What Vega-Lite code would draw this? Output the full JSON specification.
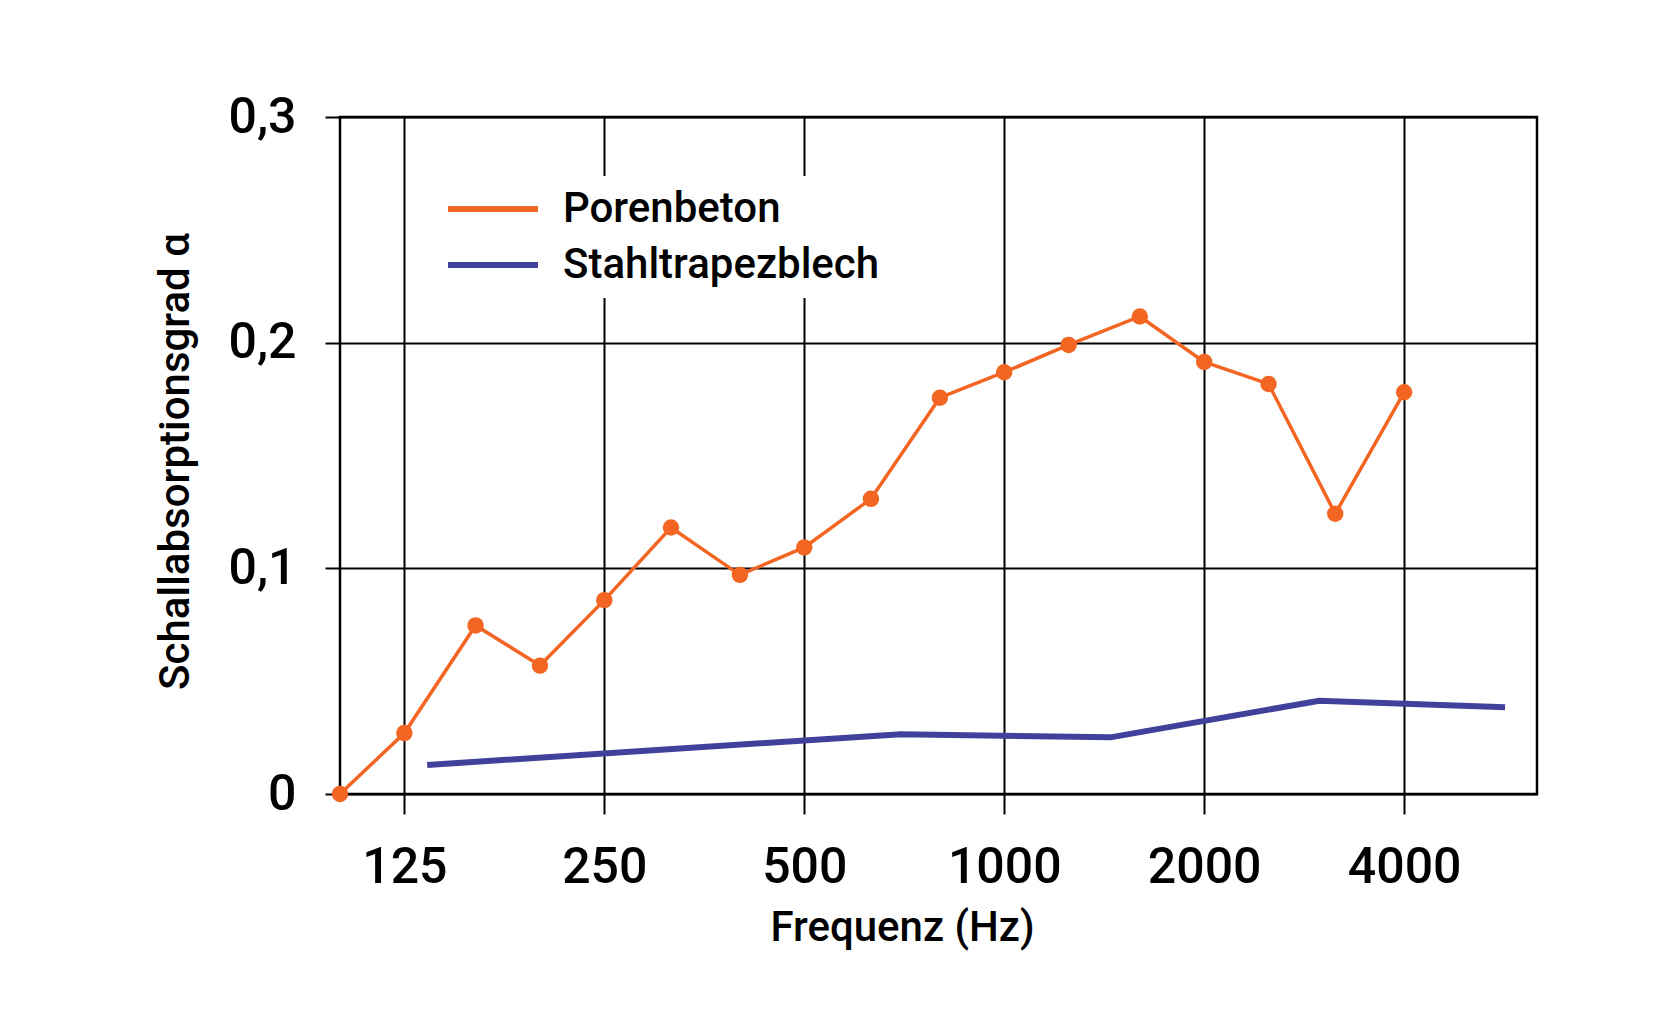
{
  "$schema": "https://vega.github.io/schema/vega-lite/v6.json",
  "autosize": {"type": "none"},
  "width": 1197,
  "height": 677,
  "padding": {"left": 340, "top": 117, "right": 117, "bottom": 225},
  "background": "white",
  "config": {
    "view": {"stroke": "black", "strokeWidth": 2.5},
    "font": "Roboto"
  },
  "data": {
    "values": [
      {"series": "Porenbeton", "f": 100, "a": 0.0},
      {"series": "Porenbeton", "f": 125, "a": 0.027},
      {"series": "Porenbeton", "f": 160, "a": 0.0747},
      {"series": "Porenbeton", "f": 200, "a": 0.0569},
      {"series": "Porenbeton", "f": 250, "a": 0.0859},
      {"series": "Porenbeton", "f": 315, "a": 0.1181},
      {"series": "Porenbeton", "f": 400, "a": 0.0971},
      {"series": "Porenbeton", "f": 500, "a": 0.1093},
      {"series": "Porenbeton", "f": 630, "a": 0.1308},
      {"series": "Porenbeton", "f": 800, "a": 0.1756},
      {"series": "Porenbeton", "f": 1000, "a": 0.1869},
      {"series": "Porenbeton", "f": 1250, "a": 0.199},
      {"series": "Porenbeton", "f": 1600, "a": 0.2116},
      {"series": "Porenbeton", "f": 2000, "a": 0.1915},
      {"series": "Porenbeton", "f": 2500, "a": 0.1817},
      {"series": "Porenbeton", "f": 3150, "a": 0.1242},
      {"series": "Porenbeton", "f": 4000, "a": 0.178},
      {"series": "Stahltrapezblech", "f": 135.3, "a": 0.0129},
      {"series": "Stahltrapezblech", "f": 698.6, "a": 0.0265},
      {"series": "Stahltrapezblech", "f": 1445, "a": 0.0251},
      {"series": "Stahltrapezblech", "f": 2980, "a": 0.0413},
      {"series": "Stahltrapezblech", "f": 5675, "a": 0.0384}
    ]
  },
  "encoding": {
    "x": {
      "field": "f",
      "type": "quantitative",
      "scale": {"type": "log", "domain": [100, 6340], "nice": false},
      "axis": {
        "values": [125, 250, 500, 1000, 2000, 4000],
        "format": "d",
        "grid": true,
        "gridColor": "black",
        "gridWidth": 2,
        "gridOpacity": 1,
        "domain": false,
        "tickColor": "black",
        "tickWidth": 2,
        "tickSize": 20,
        "labelFontSize": 50,
        "labelFontWeight": 500,
        "labelColor": "black",
        "labelBaseline": "alphabetic",
        "labelPadding": 68,
        "labelFlush": false,
        "labelOverlap": false,
        "title": "Frequenz (Hz)",
        "titleFontSize": 42,
        "titleFontWeight": 500,
        "titleColor": "black",
        "titleBaseline": "alphabetic",
        "titleAlign": "center",
        "titleAnchor": "start",
        "titleX": 562,
        "titleY": 146
      }
    },
    "y": {
      "field": "a",
      "type": "quantitative",
      "scale": {"domain": [0, 0.3], "nice": false, "zero": false},
      "axis": {
        "values": [0, 0.1, 0.2, 0.3],
        "labelExpr": "replace(format(datum.value, '.1~f'), '.', ',')",
        "grid": true,
        "gridColor": "black",
        "gridWidth": 2,
        "gridOpacity": 1,
        "domain": false,
        "tickColor": "black",
        "tickWidth": 2,
        "tickSize": 15,
        "labelFontSize": 50,
        "labelFontWeight": 500,
        "labelColor": "black",
        "labelPadding": 29,
        "labelFlush": false,
        "labelOverlap": false,
        "title": "Schallabsorptionsgrad α",
        "titleFontSize": 42,
        "titleFontWeight": 500,
        "titleColor": "black",
        "titleAngle": 270,
        "titleBaseline": "alphabetic",
        "titleAlign": "center",
        "titleAnchor": "start",
        "titleX": -152,
        "titleY": 344
      }
    },
    "color": {
      "field": "series",
      "type": "nominal",
      "scale": {"domain": ["Porenbeton", "Stahltrapezblech"], "range": ["#F26522", "#40419B"]},
      "legend": {
        "title": null,
        "orient": "none",
        "legendX": 100,
        "legendY": 59,
        "fillColor": "white",
        "padding": 5,
        "symbolType": "stroke",
        "symbolSize": 8100,
        "symbolStrokeWidth": 6,
        "clipHeight": 56,
        "rowPadding": 0,
        "labelFontSize": 42,
        "labelFontWeight": 500,
        "labelColor": "black",
        "labelOffset": 22,
        "labelLimit": 600,
        "encode": {"symbols": {"enter": {"strokeWidth": {"value": 6}}, "update": {"strokeWidth": {"value": 6}}}}
      }
    }
  },
  "layer": [
    {
      "transform": [{"filter": "datum.series === 'Stahltrapezblech'"}],
      "mark": {"type": "line", "strokeWidth": 6}
    },
    {
      "transform": [{"filter": "datum.series === 'Porenbeton'"}],
      "mark": {"type": "line", "strokeWidth": 3.5}
    },
    {
      "transform": [{"filter": "datum.series === 'Porenbeton'"}],
      "mark": {"type": "point", "filled": true, "opacity": 1, "size": 270},
      "encoding": {"color": {"value": "#F26522"}}
    }
  ]
}
